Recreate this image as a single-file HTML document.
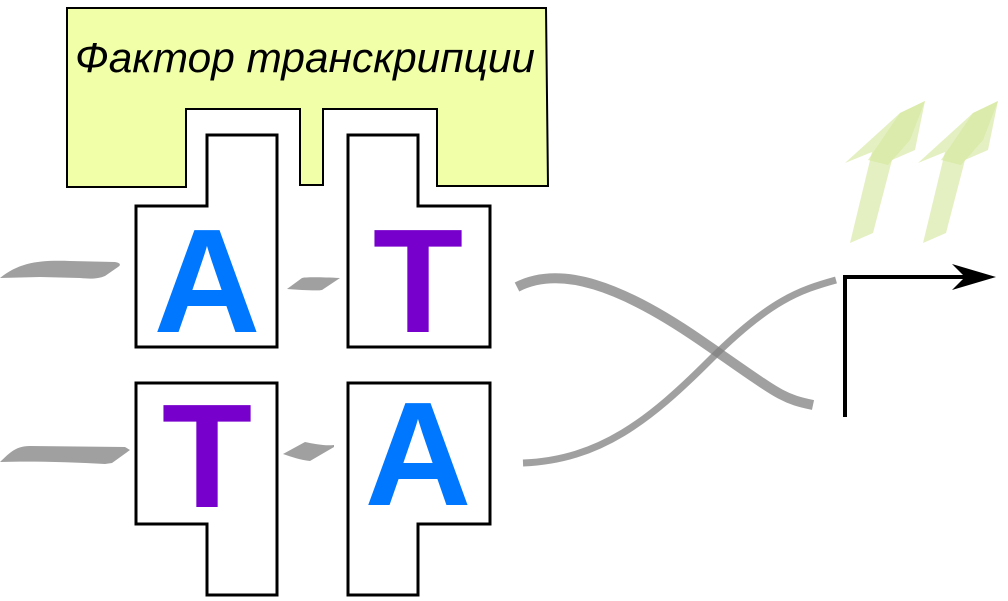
<!DOCTYPE html>
<html><head><meta charset="utf-8"><style>html,body{margin:0;padding:0;background:#fff}svg{display:block}</style></head>
<body>
<svg width="1008" height="601" viewBox="0 0 1008 601" xmlns="http://www.w3.org/2000/svg">
<polygon points="67,8 546,8 548,186 437,186 437,109 323,109 323,185 300,185 300,109 186,109 186,187 67,187" fill="#f0ffa8" stroke="#000" stroke-width="2"/>
<text x="305" y="72" font-family="Liberation Sans, sans-serif" font-style="italic" font-size="42" text-anchor="middle" textLength="460" lengthAdjust="spacingAndGlyphs" fill="#000">Фактор транскрипции</text>
<g fill="#fff" stroke="#000" stroke-width="3">
<polygon points="207,135 277,135 277,347 136,347 136,206 207,206"/>
<polygon points="348,135 418,135 418,206 490,206 490,347 348,347"/>
<polygon points="136,383 277,383 277,595 207,595 207,524 136,524"/>
<polygon points="348,383 490,383 490,524 418,524 418,595 348,595"/>
</g>
<g font-family="Liberation Sans, sans-serif" font-weight="bold" font-size="148" text-anchor="middle">
<text x="207" y="332" fill="#0077ff">A</text>
<text x="418" y="332" fill="#7700cc">T</text>
<text x="207" y="507" fill="#7700cc">T</text>
<text x="418" y="505" fill="#0077ff">A</text>
</g>
<g fill="#a0a0a0">
<path d="M0,278 C20,262 40,260 70,261 L115,262 C122,263 120,266 118,267 L105,276 C98,279 90,279 80,278 L40,277 Z"/>
<path d="M287,289 L302,278 C305,277 320,277 340,278 L322,290 C318,291 300,290 287,289 Z"/>
<path d="M0,462 C8,455 14,446 30,446 L125,447 L130,450 L112,463 L105,464 C70,462 30,461 0,462 Z"/>
<path d="M283,454 L305,442 C315,444 325,446 334,445 L334,447 L310,461 C300,460 292,457 283,454 Z"/>
</g>
<g fill="none" stroke="#808080" stroke-opacity="0.75">
<path d="M517,287 C560,265 620,285 700,340 S780,398 813,405" stroke-width="10"/>
<path d="M523,463 C600,460 650,420 710,360 S800,290 836,280" stroke-width="7"/>
</g>
<path d="M845,417 L845,277 L975,277" fill="none" stroke="#000" stroke-width="4"/>
<polygon points="996,277 952,264 965,277 952,290" fill="#000"/>
<g fill="#d6e8a0" fill-opacity="0.65">
<polygon points="850,243 873,233 892,160 915,150 925,101 900,113 845,163 872,152"/>
<polygon points="923,243 946,233 965,160 988,150 998,101 973,113 918,163 945,152"/>
<polygon points="868,160 900,113 925,101 910,140 888,165" />
<polygon points="941,160 973,113 998,101 983,140 961,165" />
</g>
</svg>
</body></html>
